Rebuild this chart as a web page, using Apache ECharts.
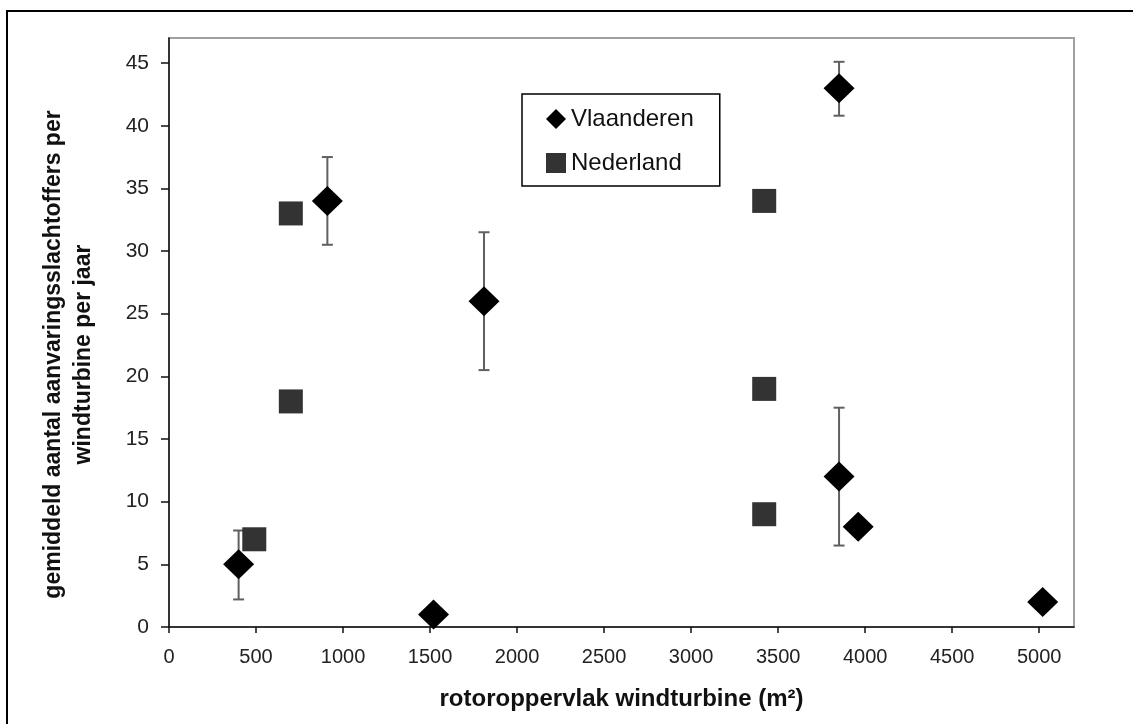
<!DOCTYPE html>
<html>
<head>
<meta charset="utf-8">
<title>Aanvaringsslachtoffers per windturbine</title>
<script src="https://cdn.jsdelivr.net/npm/echarts@6/dist/echarts.min.js"></script>
<style>
  html, body { margin: 0; padding: 0; background: #fff; }
  #chart { width: 1133px; height: 724px; }
</style>
</head>
<body>
<div id="chart"></div>
<script>
// Vlaanderen (ruiten) met foutbalken
const vlX = [400, 910, 1520, 1810, 3850, 3850, 3960, 5020]
const vlY = [5, 34, 1, 26, 43, 12, 8, 2]
const vlLow = [2.2, 30.5, null, 20.5, 40.8, 6.5, null, null]
const vlHigh = [7.7, 37.5, null, 31.5, 45.1, 17.5, null, null]

// Nederland (vierkanten)
const nlX = [490, 700, 700, 3420, 3420, 3420]
const nlY = [7, 33, 18, 34, 19, 9]

const xTicks = [0, 500, 1000, 1500, 2000, 2500, 3000, 3500, 4000, 4500, 5000]
const yTicks = [0, 5, 10, 15, 20, 25, 30, 35, 40, 45]

const font = "'Liberation Sans', Arial, sans-serif"

const vlData = vlX.map((x, i) => [x, vlY[i]])
const nlData = nlX.map((x, i) => [x, nlY[i]])
const errData = []
vlX.forEach((x, i) => {
  if (vlLow[i] != null) errData.push([x, vlLow[i], vlHigh[i]])
})

const chart = echarts.init(document.getElementById('chart'))

const option = {
  animation: false,
  graphic: [{
    type: 'rect',
    shape: { x: 7, y: 11, width: 1200, height: 800 },
    style: { fill: 'none', stroke: '#000', lineWidth: 2 },
    silent: true
  }],
  legend: {
    orient: 'vertical',
    left: 522,
    top: 94,
    borderColor: '#000',
    borderWidth: 1.5,
    padding: [13, 26, 11, 24],
    itemWidth: 20,
    itemHeight: 20,
    itemGap: 20,
    textStyle: { fontFamily: font, fontSize: 24, color: '#111' },
    data: [
      { name: 'Vlaanderen', icon: 'diamond', itemStyle: { color: '#000' } },
      { name: 'Nederland', icon: 'rect', itemStyle: { color: '#333' } }
    ]
  },
  grid: {
    left: 169,
    top: 38,
    right: 59,
    bottom: 97,
    show: true,
    borderColor: '#a0a0a0',
    borderWidth: 2
  },
  xAxis: {
    type: 'value',
    min: 0,
    max: 5200,
    name: 'rotoroppervlak windturbine (m²)',
    nameLocation: 'middle',
    nameGap: 60,
    nameTextStyle: { fontFamily: font, fontSize: 24, fontWeight: 'bold', color: '#111' },
    axisLine: { lineStyle: { color: '#111', width: 1.5 } },
    axisTick: { customValues: xTicks, length: 6, lineStyle: { color: '#111', width: 1.5 } },
    axisLabel: {
      customValues: xTicks, margin: 20, fontFamily: font, fontSize: 20, color: '#222',
      formatter: function(v) { return String(v) }
    },
    splitLine: { show: false }
  },
  yAxis: {
    type: 'value',
    min: 0,
    max: 47,
    name: 'gemiddeld aantal aanvaringsslachtoffers per\nwindturbine per jaar',
    nameLocation: 'middle',
    nameRotate: 90,
    nameGap: 70,
    nameTextStyle: {
      fontFamily: font, fontSize: 23, fontWeight: 'bold', color: '#111',
      lineHeight: 30, padding: [0, 44, 0, 0]
    },
    axisLine: { show: true, lineStyle: { color: '#111', width: 1.5 } },
    axisTick: { show: true, customValues: yTicks, length: 8, lineStyle: { color: '#111', width: 1.5 } },
    axisLabel: {
      customValues: yTicks, margin: 20, fontFamily: font, fontSize: 21, color: '#222',
      formatter: function(v) { return String(v) }
    },
    splitLine: { show: false }
  },
  series: [
    {
      name: 'fout',
      type: 'custom',
      z: 1,
      data: errData,
      renderItem: function(params, api) {
        const lo = api.coord([api.value(0), api.value(1)])
        const hi = api.coord([api.value(0), api.value(2)])
        const cap = 5.5
        const style = { stroke: '#606060', lineWidth: 2 }
        return {
          type: 'group',
          children: [
            { type: 'line', shape: { x1: lo[0], y1: lo[1], x2: hi[0], y2: hi[1] }, style: style },
            { type: 'line', shape: { x1: lo[0] - cap, y1: lo[1], x2: lo[0] + cap, y2: lo[1] }, style: style },
            { type: 'line', shape: { x1: hi[0] - cap, y1: hi[1], x2: hi[0] + cap, y2: hi[1] }, style: style }
          ]
        }
      }
    },
    {
      name: 'Nederland',
      type: 'scatter',
      z: 3,
      symbol: 'rect',
      symbolSize: 24,
      itemStyle: { color: '#333', opacity: 1 },
      data: nlData
    },
    {
      name: 'Vlaanderen',
      type: 'scatter',
      z: 4,
      symbol: 'diamond',
      symbolSize: [31, 30],
      itemStyle: { color: '#000', opacity: 1 },
      data: vlData
    }
  ]
}

chart.setOption(option)
window.addEventListener('resize', function() {
  chart.resize()
})
</script>
</body>
</html>
